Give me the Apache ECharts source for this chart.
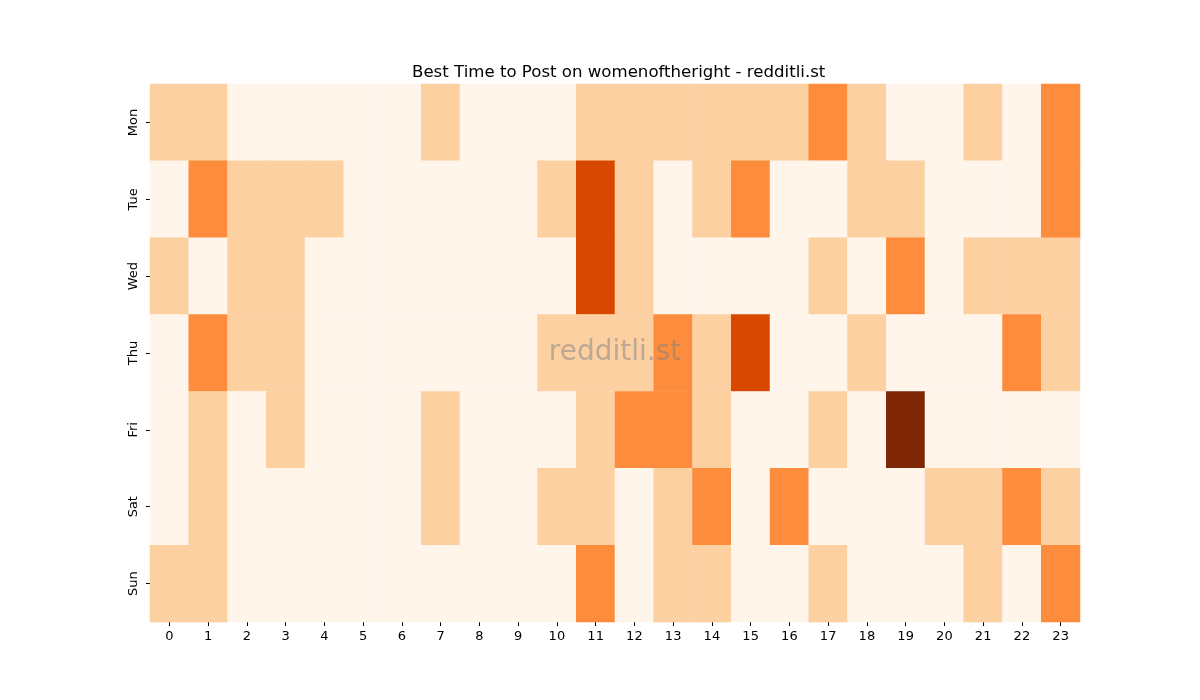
<!DOCTYPE html>
<html>
<head>
<meta charset="utf-8">
<script src="https://cdn.jsdelivr.net/npm/echarts@6/dist/echarts.min.js"></script>
<style>html,body{margin:0;padding:0;background:#fff}#c{width:1200px;height:700px}</style>
</head>
<body>
<div id="c"></div>
<script>
const hours = ['0','1','2','3','4','5','6','7','8','9','10','11','12','13','14','15','16','17','18','19','20','21','22','23'];
const days = ['Mon','Tue','Wed','Thu','Fri','Sat','Sun'];
const mon = [1,1,0,0,0,0,0,1,0,0,0,1,1,1,1,1,1,2,1,0,0,1,0,2];
const tue = [0,2,1,1,1,0,0,0,0,0,1,3,1,0,1,2,0,0,1,1,0,0,0,2];
const wed = [1,0,1,1,0,0,0,0,0,0,0,3,1,0,0,0,0,1,0,2,0,1,1,1];
const thu = [0,2,1,1,0,0,0,0,0,0,1,1,1,2,1,3,0,0,1,0,0,0,2,1];
const fri = [0,1,0,1,0,0,0,1,0,0,0,1,2,2,1,0,0,1,0,4,0,0,0,0];
const sat = [0,1,0,0,0,0,0,1,0,0,1,1,0,1,2,0,2,0,0,0,1,1,2,1];
const sun = [1,1,0,0,0,0,0,0,0,0,0,2,0,1,1,0,0,1,0,0,0,1,0,2];
const rows = [mon, tue, wed, thu, fri, sat, sun];

const data = [];
rows.forEach((r, di) => r.forEach((v, h) => data.push([h, di, v])));

const chart = echarts.init(document.getElementById('c'), null, {renderer: 'canvas'});
const font = 'DejaVu Sans';
chart.setOption({
  animation: false,
  backgroundColor: '#ffffff',
  title: {
    text: 'Best Time to Post on womenoftheright - redditli.st',
    left: 407, top: 59,
    textStyle: {fontFamily: font, fontSize: 16.6, fontWeight: 'normal', color: '#000'}
  },
  grid: {left: 150, right: 120, top: 84, bottom: 78},
  xAxis: {
    type: 'category', data: hours,
    axisLine: {show: false},
    axisTick: {show: true, alignWithLabel: true, length: 4, lineStyle: {color: '#000'}},
    axisLabel: {fontFamily: font, fontSize: 13, color: '#000', margin: 8},
    splitLine: {show: false}
  },
  yAxis: {
    type: 'category', data: days, inverse: true,
    axisLine: {show: false},
    axisTick: {show: true, alignWithLabel: true, length: 4, lineStyle: {color: '#000'}},
    axisLabel: {fontFamily: font, fontSize: 13, color: '#000', rotate: 90, margin: 10},
    splitLine: {show: false}
  },
  visualMap: {
    show: false, type: 'piecewise', dimension: 2,
    pieces: [
      {value: 0, color: '#fff5eb'},
      {value: 1, color: '#fdd0a2'},
      {value: 2, color: '#fd8d3c'},
      {value: 3, color: '#d94801'},
      {value: 4, color: '#7f2704'}
    ]
  },
  series: [{
    type: 'heatmap', data: data,
    itemStyle: {borderWidth: 0},
    emphasis: {disabled: true}
  }],
  graphic: [{
    type: 'text', x: 615, y: 353, z: 100,
    style: {text: 'redditli.st', fontFamily: font, fontSize: 28, fill: 'rgba(128,128,128,0.5)', align: 'center', verticalAlign: 'middle'}
  }]
});
</script>
</body>
</html>
